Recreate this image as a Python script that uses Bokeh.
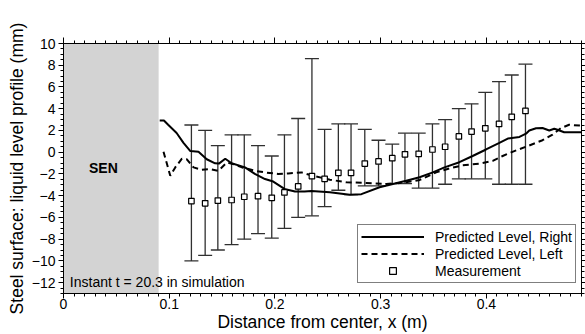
from bokeh.plotting import figure
from bokeh.models import (ColumnDataSource, Whisker, TeeHead, BoxAnnotation, Label,
                          Legend, LegendItem, LinearAxis, SingleIntervalTicker,
                          CustomJSTickFormatter, Range1d)
from bokeh.embed import file_html
from bokeh.resources import INLINE

# ---------------- data ----------------
right_x = [0.091, 0.095, 0.099, 0.107, 0.1135, 0.120, 0.1277, 0.1355, 0.1434, 0.147,
           0.153, 0.159, 0.1717, 0.181, 0.1906, 0.1984, 0.209, 0.219, 0.228, 0.2346,
           0.2519, 0.2708, 0.2818, 0.299, 0.3242, 0.3368, 0.3494, 0.3604, 0.3745, 0.387,
           0.3997, 0.4123, 0.4203, 0.4313, 0.4375, 0.4406, 0.447, 0.4531, 0.4595, 0.4642,
           0.4673, 0.4736, 0.491]
right_y = [2.92, 2.92, 2.52, 1.77, 0.86, 0.1, 0.05, -0.65, -1.02, -1.05,
           -0.6, -1.02, -1.4, -2.0, -2.47, -2.7, -3.38, -3.62, -3.62, -3.56,
           -3.68, -3.92, -3.86, -3.23, -2.62, -2.3, -1.86, -1.4, -0.92, -0.35,
           0.25, 0.86, 1.25, 1.4, 1.7, 2.0, 2.2, 2.22, 2.0, 2.16,
           2.07, 1.83, 1.83]

left_x = [0.0946, 0.101, 0.1057, 0.112, 0.1167, 0.123, 0.1308, 0.1387, 0.1465, 0.1544,
          0.161, 0.1689, 0.181, 0.1906, 0.203, 0.2126, 0.225, 0.236, 0.252, 0.2676,
          0.2865, 0.3053, 0.324, 0.337, 0.3525, 0.365, 0.3777, 0.3934, 0.406, 0.4154,
          0.4264, 0.4375, 0.4531, 0.4626, 0.4705, 0.4783, 0.491]
left_y = [0.05, -2.17, -1.4, -0.6, -0.65, -1.4, -1.62, -1.56, -1.71, -0.95,
          -1.1, -1.4, -1.71, -1.86, -2.0, -1.95, -1.86, -2.17, -2.53, -2.77,
          -2.83, -2.92, -2.77, -2.55, -1.86, -1.5, -1.2, -1.05, -0.8, -0.35,
          0.1, 0.5, 1.1, 1.62, 2.22, 2.52, 2.43]

meas_x = [0.121, 0.134, 0.146, 0.159, 0.171, 0.184, 0.197, 0.209, 0.222, 0.235,
          0.247, 0.260, 0.272, 0.285, 0.298, 0.311, 0.323, 0.336, 0.349, 0.361,
          0.374, 0.386, 0.399, 0.412, 0.424, 0.437]
meas_y = [-4.5, -4.7, -4.45, -4.4, -4.1, -4.05, -4.2, -3.7, -3.15, -2.2,
          -2.45, -1.9, -1.9, -1.05, -0.85, -0.55, -0.2, -0.15, 0.25, 0.5,
          1.45, 1.9, 2.2, 2.6, 3.25, 3.8]
meas_lo = [-10.0, -9.5, -9.0, -8.5, -8.0, -7.5, -7.9, -7.0, -6.0, -5.85,
           -5.0, -3.5, -3.9, -3.1, -3.1, -2.9, -2.9, -3.3, -3.3, -2.95,
           -2.45, -2.45, -2.45, -2.95, -2.95, -2.95]
meas_hi = [2.5, 2.0, 0.6, 1.6, 1.6, 0.6, -0.35, 1.6, 3.1, 8.6,
           2.1, 2.6, 2.6, 2.1, 1.1, 0.75, 1.75, 1.75, 2.6, 3.0,
           4.0, 4.45, 5.5, 6.5, 7.1, 8.1]

sen_right = 0.09
x_ticks_major = 0.1
y_ticks_major = 2

FONT = "Liberation Sans"

# ---------------- figure ----------------
p = figure(width=585, height=334, output_backend="svg", toolbar_location=None,
           x_range=Range1d(0, 0.49), y_range=Range1d(-13, 10),
           min_border_left=63, min_border_top=43, min_border_right=4,
           min_border_bottom=38, background_fill_color="white",
           border_fill_color="white")
p.grid.visible = False
p.outline_line_color = "black"
p.outline_line_width = 1

xt = SingleIntervalTicker(interval=x_ticks_major, num_minor_ticks=10)
yt = SingleIntervalTicker(interval=y_ticks_major, num_minor_ticks=4)

for ax, tk in ((p.xaxis[0], xt), (p.yaxis[0], yt)):
    ax.ticker = tk
    ax.axis_line_color = "black"
    ax.major_tick_in = 0
    ax.minor_tick_in = 0
    ax.major_tick_out = 5
    ax.minor_tick_out = 3
    ax.major_label_text_font = FONT
    ax.major_label_text_font_size = "14px"
    ax.major_label_text_color = "black"
    ax.axis_label_text_font = FONT
    ax.axis_label_text_font_size = "17.5px"
    ax.axis_label_text_font_style = "normal"
    ax.axis_label_text_color = "black"

p.xaxis[0].axis_label = "Distance from center, x (m)"
p.xaxis[0].major_label_standoff = 0
p.xaxis[0].axis_label_standoff = 0
p.xaxis[0].major_label_overrides = {0: "0"}
p.yaxis[0].axis_label = "Steel surface: liquid level profile (mm)"
p.yaxis[0].major_label_standoff = 3
p.yaxis[0].axis_label_standoff = 2

blank = CustomJSTickFormatter(code="return ''")
top_ax = LinearAxis(ticker=SingleIntervalTicker(interval=x_ticks_major, num_minor_ticks=10),
                    formatter=blank, major_tick_in=0, minor_tick_in=0,
                    major_tick_out=6, minor_tick_out=3, major_label_standoff=0,
                    major_label_text_font_size="0px", axis_line_color="black")
right_ax = LinearAxis(ticker=SingleIntervalTicker(interval=y_ticks_major, num_minor_ticks=4),
                      formatter=blank, major_tick_in=0, minor_tick_in=0,
                      major_tick_out=4, minor_tick_out=3, major_label_standoff=0,
                      major_label_text_font_size="0px", axis_line_color="black")
p.add_layout(top_ax, "above")
p.add_layout(right_ax, "right")

# SEN region
p.add_layout(BoxAnnotation(left=0, right=sen_right, fill_color="#d3d3d3",
                           fill_alpha=1.0, line_alpha=0, level="underlay"))

# error bars
src = ColumnDataSource(dict(x=meas_x, y=meas_y, lo=meas_lo, hi=meas_hi))
wc = "#303030"
p.add_layout(Whisker(source=src, base="x", upper="hi", lower="lo",
                     line_color=wc, line_width=1.3,
                     upper_head=TeeHead(size=14, line_color=wc, line_width=1.3),
                     lower_head=TeeHead(size=14, line_color=wc, line_width=1.3)))

r_right = p.line(right_x, right_y, line_color="black", line_width=2)
r_left = p.line(left_x, left_y, line_color="black", line_width=2, line_dash="6 4")
r_meas = p.scatter("x", "y", source=src, marker="square", size=5.5,
                   fill_color="white", line_color="black", line_width=1.2)

legend = Legend(items=[LegendItem(label="Predicted Level, Right", renderers=[r_right]),
                       LegendItem(label="Predicted Level, Left", renderers=[r_left]),
                       LegendItem(label="Measurement", renderers=[r_meas])],
                location=(294, 10), orientation="vertical",
                border_line_color="black", border_line_width=1,
                background_fill_color="white", background_fill_alpha=1,
                label_text_font=FONT, label_text_font_size="14px",
                label_text_color="black",
                glyph_width=63, glyph_height=17, label_height=17,
                label_standoff=11, spacing=0, padding=3, margin=0)
p.add_layout(legend, "center")

p.add_layout(Label(x=0.0377, y=-1.47, text="SEN", text_font=FONT,
                   text_font_size="14px", text_font_style="bold",
                   text_align="center", text_baseline="middle", text_color="black"))
p.add_layout(Label(x=0.006, y=-11.95, text="Instant t = 20.3 in simulation",
                   text_font=FONT, text_font_size="14px", text_align="left",
                   text_baseline="middle", text_color="black"))

open("out.html", "w").write(file_html(p, INLINE))
